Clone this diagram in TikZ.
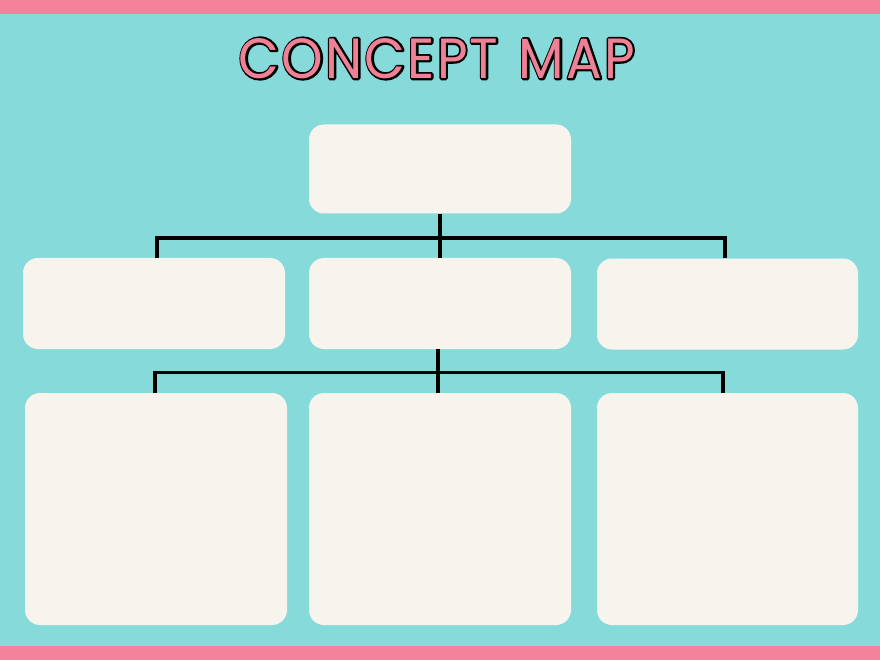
\documentclass[tikz,border=0pt]{standalone}
\usepackage{fontspec}
\newfontfamily\titlefont{Poppins}[LetterSpace=4]
\definecolor{bgteal}{RGB}{134,219,218}
\definecolor{barpink}{RGB}{244,130,154}
\definecolor{titlepink}{RGB}{240,128,150}
\definecolor{boxcream}{RGB}{247,244,238}
\newcommand{\outlinetext}[1]{\rlap{\special{pdf:literal direct 0 0 0 RG 1 Tr 4 w 1 j}#1\special{pdf:literal direct 0 Tr 1 w}}\textcolor{titlepink}{#1}}
\tikzset{
  cbox/.style={rectangle, rounded corners=15pt, fill=boxcream, draw=none, inner sep=0pt, minimum width=262pt},
  link/.style={draw=black, line width=3.4pt, line join=miter, line cap=butt}
}
\begin{document}
\begin{tikzpicture}[x=1pt,y=-1pt]
  \useasboundingbox (0,0) rectangle (880,660);
  \fill[bgteal] (0,0) rectangle (880,660);
  \fill[barpink] (0,0) rectangle (880,14);
  \fill[barpink] (0,646) rectangle (880,660);
  \node[inner sep=0pt] (title) at (437,58.5) {\resizebox{396pt}{40pt}{\titlefont\fontsize{58}{58}\selectfont\outlinetext{CONCEPT\hspace{0.08em} MAP}}};
  % boxes
  \node[cbox, minimum height=89pt] (t) at (440,169) {};
  \node[cbox, minimum height=91pt] (l1) at (154,303.5) {};
  \node[cbox, minimum height=91pt] (m1) at (440,303.5) {};
  \node[cbox, minimum height=91pt, minimum width=261pt] (r1) at (727.5,304) {};
  \node[cbox, minimum height=232pt] (l2) at (156,509) {};
  \node[cbox, minimum height=232pt] (m2) at (440,509) {};
  \node[cbox, minimum height=232pt, minimum width=261pt] (r2) at (727.5,509) {};
  % junctions
  \coordinate (j1) at (440,238);
  \coordinate (j2) at (438,372.5);
  \draw[link] (t.south) -- (m1.north);
  \draw[link] ([xshift=3pt]l1.north) |- (j1) -| ([xshift=-2.5pt]r1.north);
  \draw[link] ([xshift=-2pt]m1.south) -- ([xshift=-2pt]m2.north);
  \draw[link] ([xshift=-1pt]l2.north) |- (j2) -| ([xshift=-4.5pt]r2.north);
\end{tikzpicture}
\end{document}
